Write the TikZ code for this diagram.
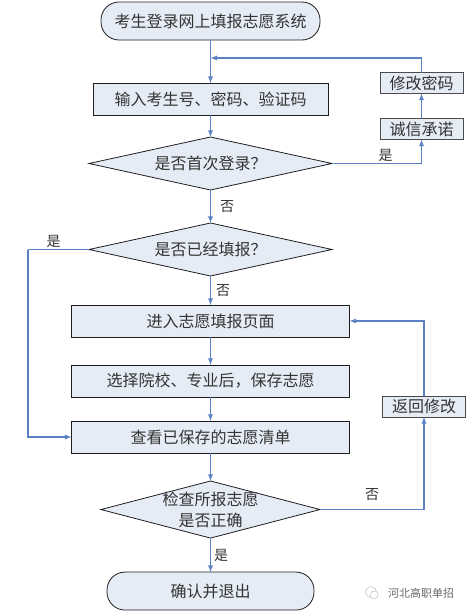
\documentclass[tikz,border=0pt]{standalone}
\usepackage{fontspec}
\setmainfont{Noto Sans CJK SC}[Scale=1]
\usepackage{tikz}
\usetikzlibrary{shapes,arrows,positioning}
\definecolor{boxfill}{HTML}{E6ECF6}
\definecolor{linkblue}{HTML}{5B80C4}
\definecolor{boxline}{HTML}{1E1E1E}
\tikzset{
    base/.style={draw=boxline, fill=boxfill, line width=0.8pt, inner sep=0pt, outer sep=0pt, align=center, text=black!80, font=\fontsize{16}{21}\selectfont},
    startstop/.style={base, rectangle, rounded corners=18pt, minimum height=38pt},
    process/.style={base, rectangle, minimum height=32pt},
    minibox/.style={base, rectangle, minimum width=83pt, minimum height=21pt, draw=boxline!80, line width=1pt},
    decision/.style={base, diamond, aspect=4.6, minimum width=243pt, minimum height=53pt},
    link/.style={-latex, draw=linkblue, line width=1.3pt},
    plainlink/.style={draw=linkblue, line width=1.3pt},
    answer/.style={font=\fontsize{14}{14}\selectfont, inner sep=1pt, text=black!80}
}
\begin{document}
\begin{tikzpicture}[x=1pt, y=1pt]
    \useasboundingbox (0,0) rectangle (469,-613);

    \node[startstop, minimum width=219pt] (start) at (210.5,-21) {考生登录网上填报志愿系统};
    \node[process, minimum width=235pt, below=43pt of start] (input) {输入考生号、密码、验证码};
    \node[decision, below=22pt of input] (first) {是否首次登录？};
    \node[decision, below=33pt of first] (filled) {是否已经填报？};
    \node[process, minimum width=278pt, below=29pt of filled] (enter) {进入志愿填报页面};
    \node[process, minimum width=278pt, below=28pt of enter] (select) {选择院校、专业后，保存志愿};
    \node[process, minimum width=278pt, below=24pt of select] (view) {查看已保存的志愿清单};
    \node[base, diamond, aspect=3.84, inner sep=-1.5pt, minimum width=219pt, minimum height=57pt, below=28pt of view] (check) {检查所报志愿\\是否正确};
    \node[startstop, minimum width=207pt, below=34pt of check] (finish) {确认并退出};

    \node[minibox, above right=24pt and 48pt of first.east] (honest) {诚信承诺};
    \node[minibox, above=25pt of honest] (password) {修改密码};
    \node[minibox, below right=75pt and 33pt of enter.east] (back) {返回修改};

    \coordinate[below=18pt of start] (merge);
    \coordinate[left=61pt of filled.west] (turn);

    \draw[link] (start) -- (input);
    \draw[link] (input) -- (first);
    \draw[link] (first) -- node[pos=0.5, right=8pt, answer] {否} (filled);
    \draw[link] (filled) -- node[pos=0.5, right=4pt, answer] {否} (enter);
    \draw[link] (enter) -- (select);
    \draw[link] (select) -- (view);
    \draw[link] (view) -- (check);
    \draw[link] (check) -- node[pos=0.5, right=2pt, answer] {是} (finish);

    \draw[link] (first.east) -| node[pos=0.3, above=0pt, answer] {是} (honest.south);
    \draw[link] (honest) -- (password);
    \draw[link] (password.north) |- (merge);
    \draw[plainlink] (filled.west) -- node[pos=0.58, above=0pt, answer] {是} (turn);
    \draw[link] (turn) |- (view.west);
    \draw[link] (check.east) -| node[pos=0.25, above=7pt, answer] {否} (back.south);
    \draw[link] (back.north) |- (enter.east);

    \node[font=\fontsize{11}{12}\selectfont, text=black!60, inner sep=0pt] (mark) at (421,-593) {河北高职单招};
    \node[draw=black!30, circle, minimum size=11pt, inner sep=0pt, left=11pt of mark, yshift=1pt] (bubble) {};
    \node[draw=black!30, fill=white, circle, minimum size=8pt, inner sep=0pt, below right=-4pt and -4pt of bubble] (bubblesmall) {};
\end{tikzpicture}
\end{document}
